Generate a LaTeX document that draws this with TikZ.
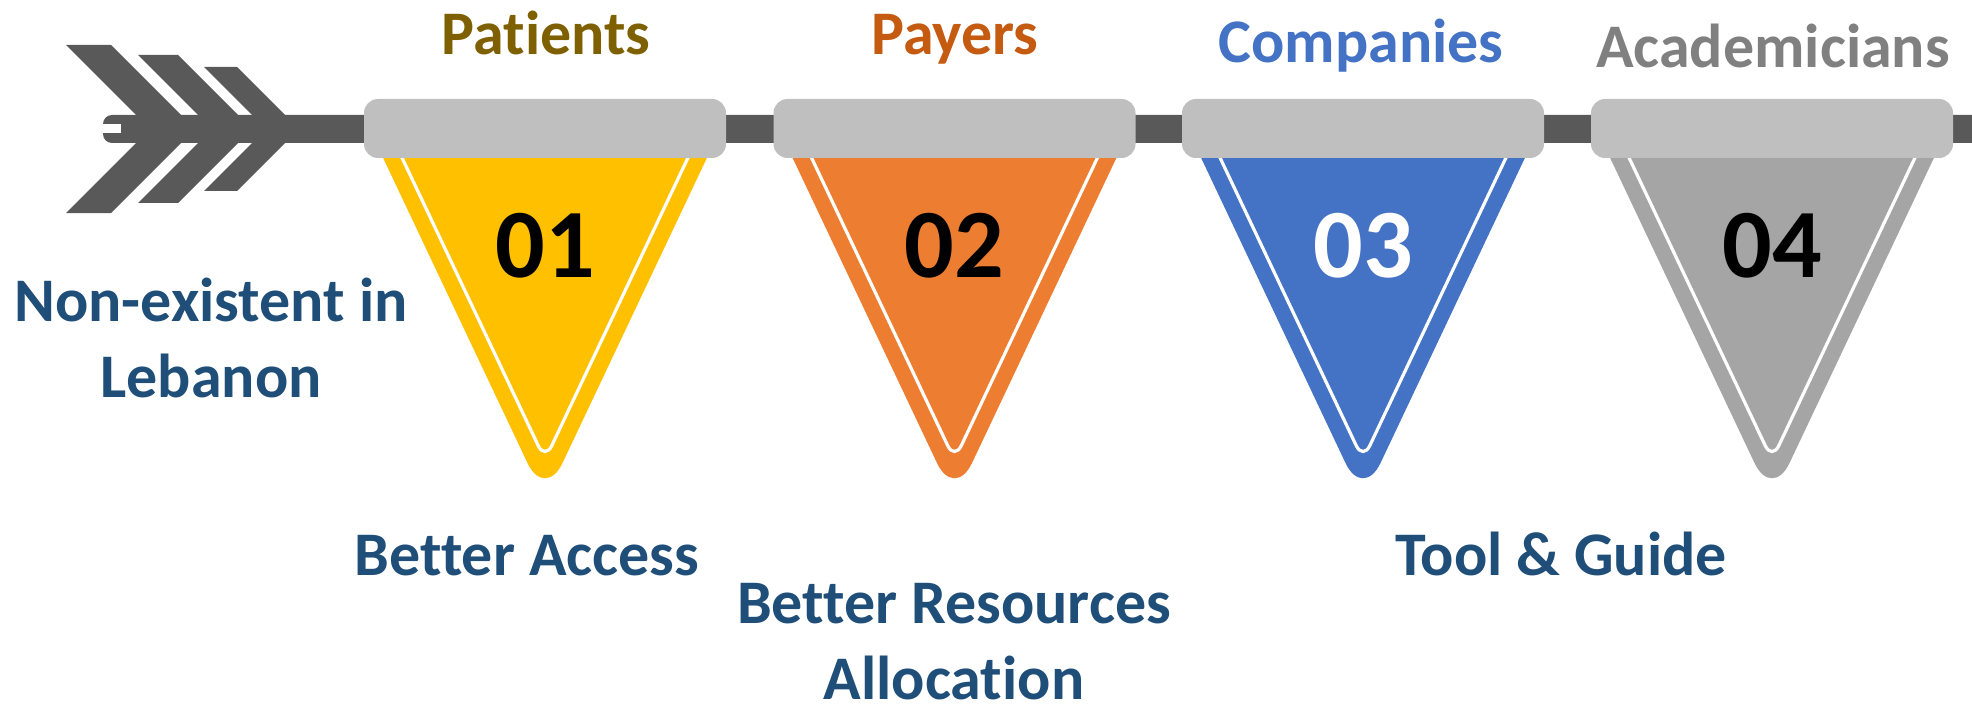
\documentclass[tikz,border=0pt]{standalone}
\usepackage{fontspec}
\setmainfont{Carlito}[Ligatures={NoCommon,NoContextual,NoRare}]
\definecolor{shaft}{HTML}{595959}
\definecolor{barg}{HTML}{BFBFBF}
\definecolor{pyel}{HTML}{FFC000}
\definecolor{pora}{HTML}{ED7D31}
\definecolor{pblu}{HTML}{4472C4}
\definecolor{pgry}{HTML}{A5A5A5}
\definecolor{txtblue}{HTML}{1F4E79}
\definecolor{tyel}{HTML}{7F6000}
\definecolor{tora}{HTML}{C55A11}
\definecolor{tgry}{HTML}{808080}
\tikzset{
  lbl/.style={font=\bfseries\fontsize{62}{76}\selectfont, text=txtblue, inner sep=0pt, anchor=base, align=center},
  ttl/.style={font=\bfseries\fontsize{62}{76}\selectfont, inner sep=0pt, anchor=base},
  num/.style={font=\bfseries\fontsize{98}{110}\selectfont, inner sep=0pt, anchor=base},
  barbox/.style={fill=barg, rounded corners=14pt},
  whiteline/.style={draw=white, line width=3.2pt}
}
\begin{document}
\begin{tikzpicture}[x=1pt,y=-1pt]
\useasboundingbox (0,0) rectangle (1972,714);
% shaft
\fill[shaft, rounded corners=9pt] (103,115) rectangle (1990,143);
\fill[white] (103,124) rectangle (121,133);
% feathers
\fill[shaft] (66,45) -- (111,45) -- (195,129) -- (111,213) -- (66,213) -- (150,129) -- cycle;
\fill[shaft] (138,55) -- (178,55) -- (252,129) -- (178,203) -- (138,203) -- (212,129) -- cycle;
\fill[shaft] (204,67) -- (237,67) -- (299,129) -- (237,191) -- (204,191) -- (266,129) -- cycle;
% pennants
\foreach \i/\cx/\col/\ncol/\nm in {1/545/pyel/black/01, 2/954.5/pora/black/02, 3/1363/pblu/white/03, 4/1772/pgry/black/04}{
  \fill[\col, rounded corners=41pt] (\cx-168,145) -- (\cx,500) -- (\cx+168,145);
  \draw[whiteline, rounded corners=16pt] (\cx-149,145) -- (\cx,460) -- (\cx+149,145);
  \path[barbox] (\cx-181,99) rectangle (\cx+181,158);
  \node[num, text=\ncol] (n\i) at (\cx,277) {\nm};
}
% titles
\node[ttl, text=tyel] (t1) at (546,55) {Patients};
\node[ttl, text=tora] (t2) at (955,55) {Payers};
\node[ttl, text=pblu] (t3) at (1361,63) {Companies};
\node[ttl, text=tgry] (t4) at (1773,68) {Academicians};
% labels (base = baseline of last line)
\node[lbl] (l0) at (211,397) {Non-existent in\\Lebanon};
\node[lbl] (l1) at (527,575) {Better Access};
\node[lbl] (l2) at (954,699) {Better Resources\\Allocation};
\node[lbl] (l3) at (1561,575) {Tool \& Guide};
\end{tikzpicture}
\end{document}
